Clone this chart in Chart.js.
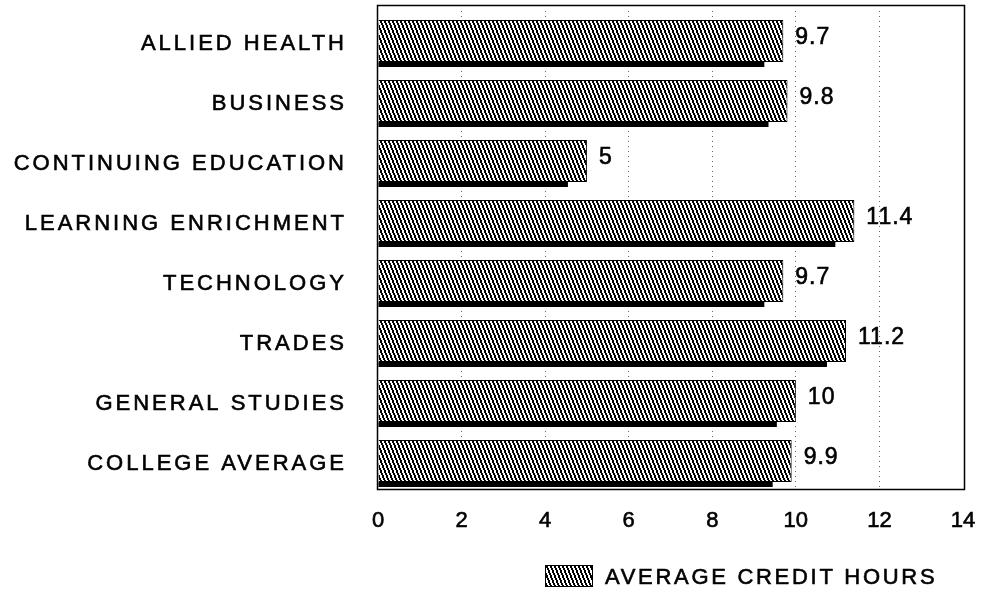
<!DOCTYPE html>
<html>
<head>
<meta charset="utf-8">
<script src="https://cdn.jsdelivr.net/npm/chart.js@4.4.1/dist/chart.umd.min.js"></script>
<style>
  html, body { margin: 0; padding: 0; background: #fff; }
  canvas { display: block; }
</style>
</head>
<body>
<canvas id="hoursChart" width="984" height="593"></canvas>
<script>
/* Average credit hours by program area */
const categories = [
  'ALLIED HEALTH',
  'BUSINESS',
  'CONTINUING EDUCATION',
  'LEARNING ENRICHMENT',
  'TECHNOLOGY',
  'TRADES',
  'GENERAL STUDIES',
  'COLLEGE AVERAGE',
];
const creditHours = [9.7, 9.8, 5, 11.4, 9.7, 11.2, 10, 9.9];
const xTicks = [0, 2, 4, 6, 8, 10, 12, 14];
const seriesLabel = 'AVERAGE CREDIT HOURS';

const FONT = '"Liberation Sans", Arial, Helvetica, sans-serif';

// backslash hatch, 4px period
function makeHatch() {
  const w = 4, h = 10;
  const c = document.createElement('canvas');
  c.width = w; c.height = h;
  const g = c.getContext('2d');
  const img = g.createImageData(w, h);
  for (let y = 0; y < h; y++) {
    const off = Math.floor(y * 0.4);
    for (let x = 0; x < w; x++) {
      const k = ((x - off) % w + w) % w;
      const v = k < 2 ? 0 : 255;
      const i = (y * w + x) * 4;
      img.data[i] = v; img.data[i + 1] = v; img.data[i + 2] = v; img.data[i + 3] = 255;
    }
  }
  g.putImageData(img, 0, 0);
  return g.createPattern(c, 'repeat');
}
const hatch = makeHatch();

// fill + thin stroke, to get the heavier look of the print
function inkText(ctx, txt, x, y) {
  ctx.fillText(txt, x, y);
  ctx.strokeText(txt, x, y);
}

const decorations = {
  id: 'decorations',
  afterDatasetsDraw(chart) {
    const ctx = chart.ctx;
    const meta = chart.getDatasetMeta(0);
    ctx.save();
    ctx.fillStyle = '#000';
    meta.data.forEach((bar) => {
      const h = bar.height;
      const end = bar.x - 19;
      ctx.fillRect(bar.base, bar.y + h / 2, end - bar.base, 5);
    });
    ctx.restore();
  },
  afterDraw(chart) {
    const ctx = chart.ctx;
    const area = chart.chartArea;
    const meta = chart.getDatasetMeta(0);
    ctx.save();

    // frame
    ctx.strokeStyle = '#000';
    ctx.lineWidth = 1.5;
    ctx.strokeRect(area.left - 0.5, 5.5, area.right - area.left + 2, 484);

    // category labels
    ctx.fillStyle = '#000';
    ctx.lineWidth = 0.6;
    ctx.textBaseline = 'middle';
    ctx.font = '22px ' + FONT;
    ctx.letterSpacing = '3px';
    ctx.textAlign = 'right';
    meta.data.forEach((bar, i) => {
      inkText(ctx, categories[i], 347, bar.y + 3);
    });

    // value labels
    ctx.font = '23px ' + FONT;
    ctx.letterSpacing = '1px';
    ctx.textAlign = 'left';
    meta.data.forEach((bar, i) => {
      inkText(ctx, String(creditHours[i]), bar.x + 12, bar.y - 3);
    });

    // legend
    ctx.fillStyle = hatch;
    ctx.fillRect(545, 565, 48, 22);
    ctx.lineWidth = 1;
    ctx.strokeRect(545.5, 565.5, 47, 21);
    ctx.fillStyle = '#000';
    ctx.lineWidth = 0.6;
    ctx.font = '22px ' + FONT;
    ctx.letterSpacing = '2.7px';
    inkText(ctx, seriesLabel, 605, 578);

    ctx.restore();
  },
};

new Chart(document.getElementById('hoursChart'), {
  type: 'bar',
  data: {
    labels: categories,
    datasets: [
      {
        label: seriesLabel,
        data: creditHours,
        backgroundColor: hatch,
        borderColor: '#000',
        borderWidth: 1,
        barPercentage: 0.7,
        categoryPercentage: 1,
      },
    ],
  },
  options: {
    indexAxis: 'y',
    responsive: false,
    animation: false,
    layout: { padding: { left: 378, right: 21, top: 11, bottom: 62 } },
    plugins: {
      legend: { display: false },
      tooltip: { enabled: false },
    },
    scales: {
      y: { display: false },
      x: {
        position: 'bottom',
        min: 0,
        max: 14,
        afterBuildTicks: (s) => { s.ticks = xTicks.map((v) => ({ value: v })); },
        afterFit: (s) => { s.height = 40; s.paddingLeft = 0; s.paddingRight = 0; },
        grid: {
          drawTicks: false,
          color: (c) => (c.tick && (c.tick.value === 0 || c.tick.value === 14)) ? 'rgba(0,0,0,0)' : '#666',
          lineWidth: 1,
        },
        border: { display: false, dash: [1, 4] },
        ticks: {
          padding: 17,
          color: '#000',
          textStrokeColor: '#000',
          textStrokeWidth: 0.6,
          font: { family: FONT, size: 22 },
        },
      },
    },
  },
  plugins: [decorations],
});
</script>
</body>
</html>
